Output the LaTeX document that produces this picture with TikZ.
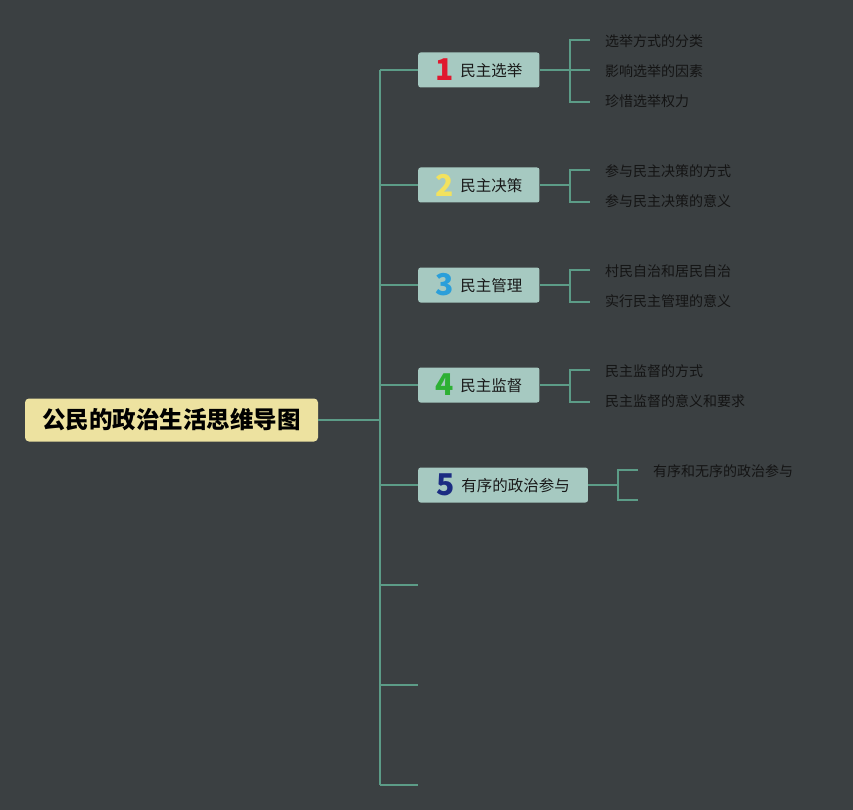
\documentclass[tikz,border=0pt]{standalone}
\usepackage{fontspec}
\setmainfont{Noto Sans CJK SC}
\usetikzlibrary{positioning, calc}
\definecolor{mapbg}{HTML}{3B4042}
\definecolor{mapline}{HTML}{5C9C87}
\definecolor{topicfill}{HTML}{A6C9C1}
\definecolor{rootfill}{HTML}{EDE2A0}
\definecolor{numred}{HTML}{E0182E}
\definecolor{numyellow}{HTML}{F2E25E}
\definecolor{numblue}{HTML}{2B9FDA}
\definecolor{numgreen}{HTML}{2DB034}
\definecolor{numnavy}{HTML}{1B2C82}
\newcommand{\topicnum}[2]{\raisebox{-4.5pt}{\fontsize{30}{30}\selectfont\bfseries\textcolor{#1}{#2}}\hspace{7pt}}
\tikzset{
  link/.style={draw=mapline, line width=2pt},
  rootbox/.style={fill=rootfill, rounded corners=4pt, minimum width=293pt, minimum height=43pt,
    inner sep=0pt, font=\fontsize{23.5}{26}\selectfont\bfseries, text=black},
  topic/.style={fill=topicfill, rounded corners=2.5pt, anchor=west, minimum height=35pt,
    inner xsep=17pt, inner ysep=0pt, font=\fontsize{15.5}{18}\selectfont, text=black!90},
  leaf/.style={anchor=west, inner xsep=15pt, inner ysep=0pt, font=\fontsize{14}{16}\selectfont, text=black!92},
}

\begin{document}
\begin{tikzpicture}[x=1pt, y=-1pt]
    % background
    \fill[mapbg] (0,0) rectangle (853,810);
    \useasboundingbox (0,0) rectangle (853,810);
    % root
    \node[rootbox] (root) at (171.5,420) {公民的政治生活思维导图};
    \coordinate (hub) at (380,420);
    \coordinate (top) at (380,70);
    \coordinate (bottom) at (380,785);
    % topics
    \node[topic] (t1) at (418,70) {\topicnum{numred}{1}民主选举};
    \node[topic] (t2) at (418,185) {\topicnum{numyellow}{2}民主决策};
    \node[topic] (t3) at (418,285) {\topicnum{numblue}{3}民主管理};
    \node[topic] (t4) at (418,385) {\topicnum{numgreen}{4}民主监督};
    \node[topic, inner xsep=18pt] (t5) at (418,485) {\topicnum{numnavy}{5}有序的政治参与};
    \coordinate (e6) at (418,585);
    \coordinate (e7) at (418,685);
    \coordinate (e8) at (418,785);
    % leaves
    \node[leaf] (s11) at (590,41) {选举方式的分类};
    \node[leaf] (s12) at (590,71) {影响选举的因素};
    \node[leaf] (s13) at (590,101) {珍惜选举权力};
    \node[leaf] (s21) at (590,171) {参与民主决策的方式};
    \node[leaf] (s22) at (590,201) {参与民主决策的意义};
    \node[leaf] (s31) at (590,271) {村民自治和居民自治};
    \node[leaf] (s32) at (590,301) {实行民主管理的意义};
    \node[leaf] (s41) at (590,371) {民主监督的方式};
    \node[leaf] (s42) at (590,401) {民主监督的意义和要求};
    \node[leaf] (s51) at (638,471) {有序和无序的政治参与};
    \coordinate (s52) at (638,500);
    % trunk
    \draw[link] (root.east) -- (hub);
    \draw[link] (top) -- (bottom);
    \foreach \t in {t1,t2,t3,t4,t5}
      \draw[link] (\t.west -| hub) -- (\t.west);
    \foreach \e in {e6,e7,e8}
      \draw[link] (\e -| hub) -- (\e);
    % brackets
    \coordinate (k1) at (570,70);
    \coordinate (k2) at (570,185);
    \coordinate (k3) at (570,285);
    \coordinate (k4) at (570,385);
    \coordinate (k5) at (618,485);
    \draw[link] (t1.east) -- (k1);
    \draw[link] (t2.east) -- (k2);
    \draw[link] (t3.east) -- (k3);
    \draw[link] (t4.east) -- (k4);
    \draw[link] (t5.east) -- (k5);
    \draw[link] ([yshift=1pt]s11.west) -| (k1) |- ([yshift=-1pt]s13.west);
    \draw[link] (k1) -- (k1 -| s12.west);
    \draw[link] ([yshift=1pt]s21.west) -| (k2) |- ([yshift=-1pt]s22.west);
    \draw[link] ([yshift=1pt]s31.west) -| (k3) |- ([yshift=-1pt]s32.west);
    \draw[link] ([yshift=1pt]s41.west) -| (k4) |- ([yshift=-1pt]s42.west);
    \draw[link] ([yshift=1pt]s51.west) -| (k5) |- (s52);
  \end{tikzpicture}
\end{document}
